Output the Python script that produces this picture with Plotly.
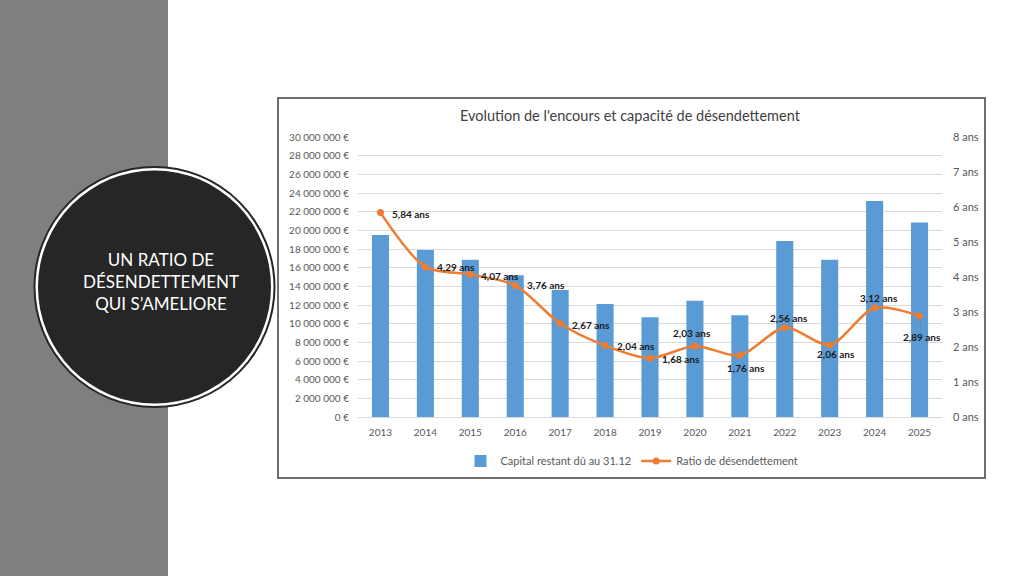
import plotly.graph_objects as go

# ---------------- data ----------------
years = [2013, 2014, 2015, 2016, 2017, 2018, 2019,
         2020, 2021, 2022, 2023, 2024, 2025]
capital = [19.5e6, 17.9e6, 16.85e6, 15.2e6, 13.6e6, 12.1e6, 10.7e6,
           12.45e6, 10.9e6, 18.85e6, 16.85e6, 23.15e6, 20.85e6]
ratio = [5.84, 4.29, 4.07, 3.76, 2.67, 2.04, 1.68, 2.03, 1.76, 2.56, 2.06, 3.12, 2.89]

title_text = "Evolution de l'encours et capacité de désendettement"
bar_name = "Capital restant dû au 31.12"
line_name = "Ratio de désendettement"
slide_text = "UN RATIO DE<br>DÉSENDETTEMENT<br>QUI S’AMELIORE"

# label offsets (pixels) for data labels
label_dx = [31, 31, 30, 31, 31, 31, 31, -3, 6, 4, 6, 4, 2]
label_dy = [-1, 0, -1, 0, -1, 0, -1, 13, -13, 9, -9, 10, -21]

W, H = 1024, 576
FONT = "Lato"
BLUE = "#5B9BD5"
ORANGE = "#ED7D31"
GRID = "#D9D9D9"
TICK = "#595959"


def px(x):
    return x / W


def py(y):
    return 1 - y / H


fig = go.Figure()

fig.add_trace(go.Bar(
    x=years, y=capital, name=bar_name, marker=dict(color=BLUE, line=dict(width=0)),
    yaxis="y", xaxis="x", hoverinfo="skip", width=0.38,
))
fig.add_trace(go.Scatter(
    x=years, y=ratio, name=line_name, mode="lines+markers", yaxis="y2", xaxis="x",
    line=dict(color=ORANGE, width=2.5, shape="spline", smoothing=0.8),
    marker=dict(color=ORANGE, size=7, symbol="circle"),
    hoverinfo="skip",
))

annotations = []
for i, (yr, v) in enumerate(zip(years, ratio)):
    txt = f"{v:.2f}".replace(".", ",") + " ans"
    if i == len(years) - 1:
        annotations.append(dict(
            x=yr, y=v, xref="x", yref="y2", text=f"<b>{txt}</b>",
            showarrow=True, arrowhead=0, arrowwidth=0.8, arrowcolor="#7f7f7f",
            ax=label_dx[i], ay=-label_dy[i], standoff=2,
            font=dict(family=FONT, size=10, color="#1a1a1a"),
        ))
    else:
        annotations.append(dict(
            x=yr, y=v, xref="x", yref="y2", text=f"<b>{txt}</b>",
            showarrow=False, xshift=label_dx[i], yshift=label_dy[i],
            font=dict(family=FONT, size=10, color="#1a1a1a"),
        ))

# chart title
annotations.append(dict(
    x=px(630), y=py(116), xref="paper", yref="paper", text=title_text,
    showarrow=False, xanchor="center", yanchor="middle",
    font=dict(family=FONT, size=14.5, color="#404040"),
))
# slide text in circle
annotations.append(dict(
    x=px(161), y=py(281), xref="paper", yref="paper", text=slide_text,
    showarrow=False, xanchor="center", yanchor="middle", align="center",
    font=dict(family=FONT, size=17, color="#FFFFFF"),
))

shapes = [
    # grey band
    dict(type="rect", xref="paper", yref="paper", x0=-0.01, x1=px(168), y0=-0.05, y1=1.05,
         fillcolor="#7F7F7F", line=dict(width=0), layer="below"),
    # outer ring
    dict(type="circle", xref="paper", yref="paper",
         x0=px(154.5 - 120), x1=px(154.5 + 120), y0=py(287 + 120), y1=py(287 - 120),
         fillcolor="#FFFFFF", line=dict(color="#262626", width=2), layer="below"),
    # inner disc
    dict(type="circle", xref="paper", yref="paper",
         x0=px(154.5 - 116.5), x1=px(154.5 + 116.5), y0=py(287 + 116.5), y1=py(287 - 116.5),
         fillcolor="#262626", line=dict(width=0), layer="below"),
    # chart frame
    dict(type="rect", xref="paper", yref="paper",
         x0=px(278), x1=px(985), y0=py(478), y1=py(98),
         fillcolor="rgba(0,0,0,0)", line=dict(color="#3F3F3F", width=1.5), layer="below"),
]

fig.update_layout(
    width=W, height=H,
    margin=dict(l=0, r=0, t=0, b=0, pad=0, autoexpand=False),
    paper_bgcolor="#FFFFFF", plot_bgcolor="rgba(0,0,0,0)",
    separators=", ",
    font=dict(family=FONT, color=TICK),
    showlegend=True,
    legend=dict(
        orientation="h", x=px(632), y=py(461), xanchor="center", yanchor="middle",
        font=dict(family=FONT, size=11, color=TICK), bgcolor="rgba(0,0,0,0)",
        traceorder="normal",
    ),
    xaxis=dict(
        domain=[px(358), px(942)], type="linear",
        range=[years[0] - 0.5, years[-1] + 0.5], tickmode="array",
        tickvals=years, ticktext=[str(y) for y in years],
        showgrid=False, showline=True, linecolor=GRID, linewidth=1, zeroline=False,
        ticks="", tickfont=dict(family=FONT, size=10, color=TICK),
        ticklabelstandoff=6, automargin=False,
    ),
    yaxis=dict(
        domain=[py(417), py(137)], range=[0, 30e6], dtick=2e6,
        tickformat=",d", ticksuffix=" €", anchor="x",
        showgrid=True, gridcolor=GRID, gridwidth=1, zeroline=False,
        showline=False, ticks="", tickfont=dict(family=FONT, size=10, color=TICK),
        ticklabelstandoff=8, automargin=False,
    ),
    yaxis2=dict(
        overlaying="y", side="right", range=[0, 8], dtick=1, anchor="x",
        ticksuffix=" ans", showgrid=False, zeroline=False, showline=False,
        ticks="", tickfont=dict(family=FONT, size=11, color=TICK),
        ticklabelstandoff=10, automargin=False,
    ),
    shapes=shapes,
    annotations=annotations,
)

fig.write_html("out.html")
